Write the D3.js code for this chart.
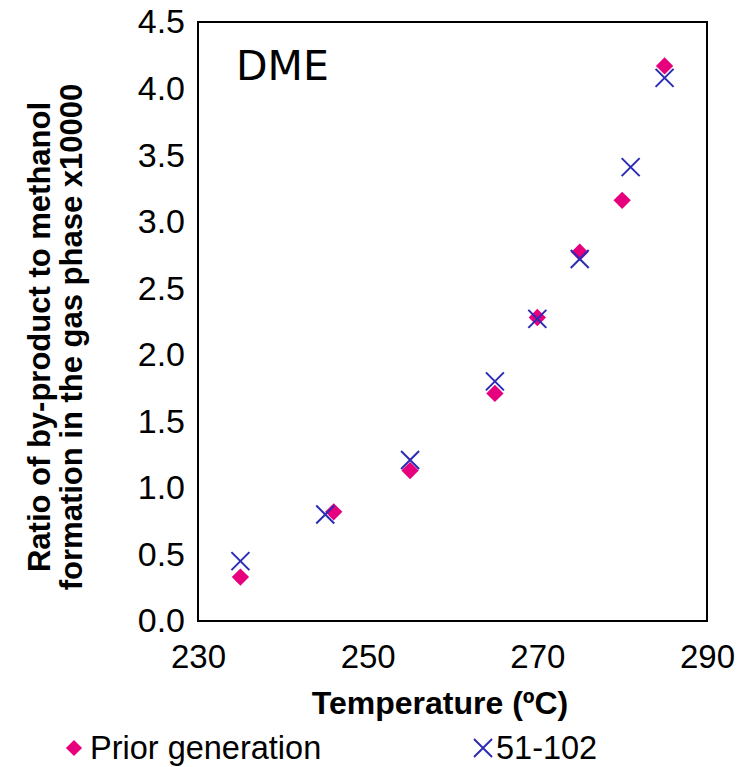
<!DOCTYPE html>
<html><head><meta charset="utf-8">
<script src="https://cdn.jsdelivr.net/npm/d3@7"></script>
<style>body{margin:0;background:#fff}</style>
</head><body>
<svg id="c" width="737" height="767"></svg>
<script>
const priorTemp = [235, 246, 255, 265, 270, 275, 280, 285];
const priorVal  = [0.33, 0.82, 1.13, 1.71, 2.28, 2.77, 3.16, 4.17];
const newTemp   = [235, 245, 255, 265, 270, 275, 281, 285];
const newVal    = [0.45, 0.80, 1.21, 1.80, 2.27, 2.72, 3.41, 4.08];
const xTicks = [230, 250, 270, 290];
const yTicks = [0, 0.5, 1, 1.5, 2, 2.5, 3, 3.5, 4, 4.5];
const seriesNames = ["Prior generation", "51-102"];

const svg = d3.select("#c");
const L = 198, R = 707, T = 22, B = 621;
const x = d3.scaleLinear().domain([230, 290]).range([L, R]);
const y = d3.scaleLinear().domain([0, 4.5]).range([B, T]);
const font = "'Liberation Sans', Arial, sans-serif";

svg.append("rect").attr("x", L).attr("y", T).attr("width", R - L).attr("height", B - T)
  .attr("fill", "none").attr("stroke", "#000").attr("stroke-width", 2);

const yAx = svg.append("g").attr("transform", `translate(${L},0)`)
  .call(d3.axisLeft(y).tickValues(yTicks).tickFormat(d3.format(".1f")).tickSize(0).tickPadding(13));
yAx.select(".domain").remove();
yAx.selectAll("text").attr("font-family", font).attr("font-size", 34).attr("fill", "#000");

const xAx = svg.append("g").attr("transform", `translate(0,${B})`)
  .call(d3.axisBottom(x).tickValues(xTicks).tickFormat(d3.format("d")).tickSize(0).tickPadding(24));
xAx.select(".domain").remove();
xAx.selectAll("text").attr("font-family", font).attr("font-size", 33).attr("fill", "#000");

svg.append("text").attr("x", 440).attr("y", 714).attr("text-anchor", "middle")
  .attr("font-family", font).attr("font-weight", "bold").attr("font-size", 32).text("Temperature (ºC)");

const yt = svg.append("text").attr("transform", `translate(0,337) rotate(-90)`)
  .attr("text-anchor", "middle").attr("font-family", font).attr("font-weight", "bold").attr("font-size", 31);
yt.append("tspan").attr("x", 0).attr("y", 50).text("Ratio of by-product to methanol");
yt.append("tspan").attr("x", 0).attr("y", 82).text("formation in the gas phase x10000");

svg.append("text").attr("x", 236).attr("y", 80).attr("font-family", "'DejaVu Sans', Verdana, sans-serif")
  .attr("font-size", 41).text("DME");

const pink = "#e6007e", blue = "#2b2bb5";
function drawDiamond(g, cx, cy, s) {
  g.append("path").attr("d", d3.symbol().type(d3.symbolSquare).size(s)())
    .attr("transform", `translate(${cx},${cy}) rotate(45)`).attr("fill", pink);
}
function drawX(g, cx, cy, h) {
  g.append("path").attr("d", `M${cx - h},${cy - h}L${cx + h},${cy + h}M${cx - h},${cy + h}L${cx + h},${cy - h}`)
    .attr("stroke", blue).attr("stroke-width", 2).attr("fill", "none");
}
const pts = svg.append("g");
priorTemp.forEach((t, i) => drawDiamond(pts, x(t), y(priorVal[i]), 150));
newTemp.forEach((t, i) => drawX(pts, x(t), y(newVal[i]), 9));

// legend
const lg = svg.append("g");
drawDiamond(lg, 74, 748, 130);
lg.append("text").attr("x", 90).attr("y", 759).attr("font-family", font).attr("font-size", 32.5).text(seriesNames[0]);
drawX(lg, 483, 748, 9);
lg.append("text").attr("x", 496).attr("y", 759).attr("font-family", font).attr("font-size", 32.5).text(seriesNames[1]);
</script>
</body></html>
